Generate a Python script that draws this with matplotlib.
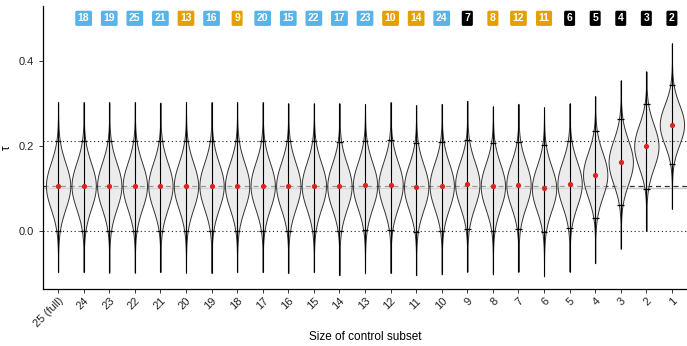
import numpy as np
import matplotlib
matplotlib.use("Agg")
import matplotlib.pyplot as plt

plt.rcParams['font.family'] = ['Liberation Sans', 'DejaVu Sans']

# ---- data ----
categories = ["25 (full)", "24", "23", "22", "21", "20", "19", "18", "17", "16",
              "15", "14", "13", "12", "11", "10", "9", "8", "7", "6", "5", "4",
              "3", "2", "1"]
means = [0.106, 0.106, 0.106, 0.106, 0.106, 0.106, 0.106, 0.106, 0.106, 0.106,
         0.106, 0.105, 0.107, 0.108, 0.103, 0.106, 0.110, 0.105, 0.109, 0.100,
         0.111, 0.132, 0.162, 0.199, 0.250]
q_low = [0.000, 0.000, 0.000, 0.000, 0.000, 0.000, 0.000, 0.000, 0.000, 0.000,
         0.000, 0.000, 0.002, 0.003, -0.002, 0.000, 0.005, -0.001, 0.004, -0.003,
         0.006, 0.030, 0.060, 0.099, 0.158]
q_high = [0.211, 0.211, 0.211, 0.211, 0.211, 0.211, 0.211, 0.211, 0.211, 0.211,
          0.211, 0.210, 0.212, 0.213, 0.206, 0.209, 0.213, 0.206, 0.210, 0.202,
          0.212, 0.234, 0.263, 0.299, 0.343]
v_min = [-0.097, -0.097, -0.098, -0.098, -0.097, -0.098, -0.099, -0.097, -0.097, -0.099,
         -0.097, -0.104, -0.100, -0.099, -0.104, -0.102, -0.096, -0.102, -0.096, -0.107,
         -0.096, -0.076, -0.042, 0.000, 0.052]
v_max = [0.303, 0.303, 0.303, 0.303, 0.302, 0.303, 0.303, 0.303, 0.303, 0.300,
         0.300, 0.300, 0.299, 0.303, 0.296, 0.299, 0.306, 0.293, 0.299, 0.291,
         0.300, 0.317, 0.354, 0.375, 0.441]

full_mean_line = 0.1066     # dashed line
reference_line = 0.1005     # solid light grey line
ci_lines = [0.0, 0.211]     # dotted lines

box_labels = ["18", "19", "25", "21", "13", "16", "9", "20", "15", "22", "17", "23",
              "10", "14", "24", "7", "8", "12", "11", "6", "5", "4", "3", "2"]
box_groups = ["A", "A", "A", "A", "B", "A", "B", "A", "A", "A", "A", "A",
              "B", "B", "A", "C", "B", "B", "B", "C", "C", "C", "C", "C"]
group_colors = {"A": "#56B4E9", "B": "#E69F00", "C": "#000000"}
box_y = 0.50

# ---- figure ----
fig = plt.figure(figsize=(6.87, 3.46), dpi=100)
ax = fig.add_axes([0.0626, 0.1647, 0.9374, 0.818])

pos = np.arange(len(categories))

# reference lines beneath violins
ax.axhline(reference_line, color="#c8c8c8", lw=1.0, zorder=1)
ax.axhline(full_mean_line, color="#333333", lw=0.9, ls=(0, (4, 3)), zorder=1)

# violins built from summary values
vpstats = []
for m, lo, hi, mn, mx in zip(means, q_low, q_high, v_min, v_max):
    sd = (hi - lo) / 3.92
    coords = np.linspace(mn, mx, 200)
    vals = np.exp(-0.5 * ((coords - m) / sd) ** 2)
    vpstats.append(dict(coords=coords, vals=vals, mean=m, median=m, min=mn, max=mx))
parts = ax.violin(vpstats, positions=pos, widths=0.95,
                  showmeans=False, showextrema=False, showmedians=False)
for b in parts['bodies']:
    b.set_alpha(None)
    b.set_facecolor((0.88, 0.88, 0.88, 0.6))
    b.set_edgecolor((0.2, 0.2, 0.2, 1.0))
    b.set_linewidth(0.7)
    b.set_zorder(2)

# min-max lines and quantile ticks
ax.vlines(pos, v_min, v_max, color="black", lw=0.8, zorder=3)
ax.hlines(q_low, pos - 0.13, pos + 0.13, color="black", lw=0.9, zorder=3)
ax.hlines(q_high, pos - 0.13, pos + 0.13, color="black", lw=0.9, zorder=3)

# dotted lines
for yv in ci_lines:
    ax.axhline(yv, color="#222222", lw=0.8, ls=(0, (1, 2.5)), zorder=4)

# means
ax.scatter(pos, means, s=14, color="#DD2222", zorder=6, linewidths=0)

# top labels
for i, (lab, g) in enumerate(zip(box_labels, box_groups)):
    ax.text(pos[i + 1], box_y, lab, ha="center", va="center", color="white",
            fontsize=7.5, fontweight="bold",
            bbox=dict(boxstyle="round,pad=0.25,rounding_size=0.15",
                      fc=group_colors[g], ec="none"), zorder=7)

ax.set_xlim(-0.59, len(categories) - 1 + 0.59)
ax.set_ylim(-0.1365, 0.529)
ax.set_yticks([0.0, 0.2, 0.4])
ax.set_yticklabels(["0.0", "0.2", "0.4"])
ax.set_xticks(pos)
ax.set_xticklabels(categories, rotation=45, ha="right", rotation_mode="anchor")
ax.tick_params(axis="both", labelsize=8, colors="#333333", length=3, width=0.7,
               labelcolor="#222222")
ax.tick_params(axis="x", pad=2)
for s in ["top", "right"]:
    ax.spines[s].set_visible(False)
for s in ["left", "bottom"]:
    ax.spines[s].set_linewidth(0.9)
    ax.spines[s].set_color("black")

ax.set_ylabel("τ", fontsize=8.5, labelpad=4)
ax.set_xlabel("Size of control subset", fontsize=8.5, labelpad=1)

fig.savefig("out.png", dpi=100)
